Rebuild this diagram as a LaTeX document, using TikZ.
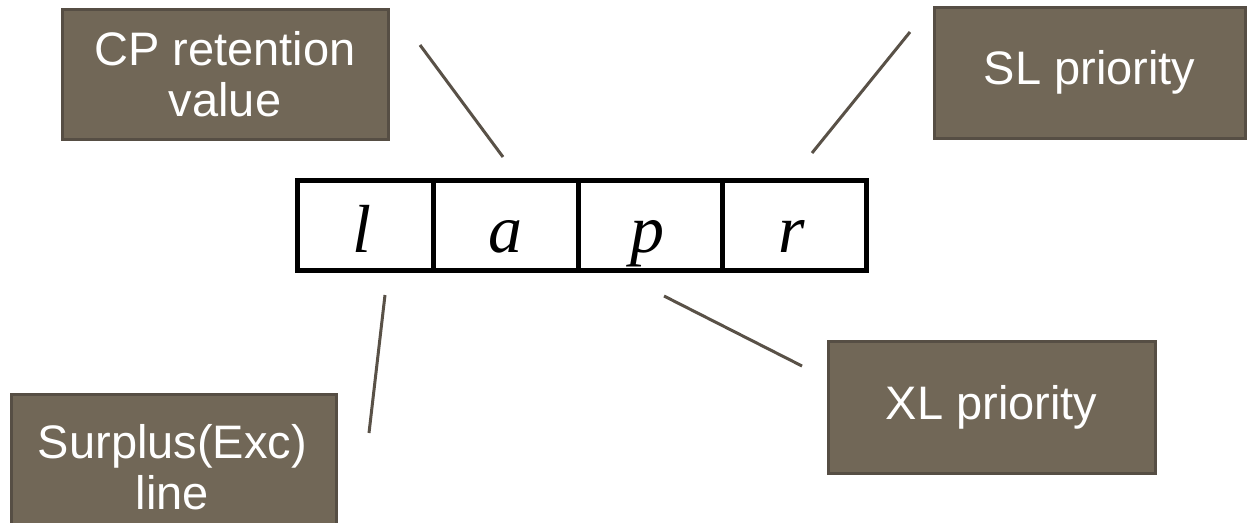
\documentclass[tikz,border=0pt]{standalone}
\usepackage{fontspec}
\setmainfont{Liberation Sans}
\newfontfamily\cellfont{Liberation Serif}
\begin{document}
\begin{tikzpicture}[x=1pt,y=-1pt]
\definecolor{boxfill}{HTML}{716757}
\definecolor{boxline}{HTML}{564E44}
\definecolor{conn}{HTML}{595147}
\tikzset{
  tagbox/.style={draw=boxline, line width=3pt, fill=boxfill, text=white, align=center,
    inner sep=0pt, font=\fontsize{47}{51}\selectfont},
  cell/.style={draw=black, line width=5pt, minimum height=90pt, inner sep=0pt},
  letter/.style={anchor=base, inner sep=0pt, font=\cellfont\itshape\fontsize{68}{68}\selectfont},
  connector/.style={draw=conn, line width=3pt}
}
\useasboundingbox (0,0) rectangle (1247,522);
\clip (0,0) rectangle (1247,522);
\fill[white] (0,0) rectangle (1247,522);

% table
\node[cell, minimum width=136pt] (cl) at (365,225) {};
\node[cell, minimum width=145pt] (ca) at (505.5,225) {};
\node[cell, minimum width=144pt] (cp) at (650,225) {};
\node[cell, minimum width=144pt] (cr) at (794,225) {};
\node[letter] (ll) at (362,252) {l};
\node[letter] (la) at (505,252) {a};
\node[letter] (lp) at (647,252) {p};
\node[letter] (lr) at (792,252) {r};

% boxes
\node[tagbox, minimum width=326pt, minimum height=130pt] (bcp) at (225,74) {CP retention\\value};
\node[tagbox, minimum width=311pt, minimum height=131pt] (bsl) at (1089.5,72.5) {SL priority};
\node[tagbox, minimum width=325pt, minimum height=200pt, anchor=north west] (bsu) at (10,393) {};
\node[text=white, align=center, font=\fontsize{47}{51}\selectfont, inner sep=0pt] (tsu) at (172.5,467) {Surplus(Exc)\\line};
\node[tagbox, minimum width=327pt, minimum height=132pt] (bxl) at (991.5,407) {XL priority};

% connectors
\coordinate (c1a) at (420,45);
\coordinate (c1b) at (503,157);
\coordinate (c2a) at (910,32);
\coordinate (c2b) at (812,153);
\coordinate (c3a) at (385,295);
\coordinate (c3b) at (369,433);
\coordinate (c4a) at (664,296);
\coordinate (c4b) at (802,366);
\draw[connector] (c1a) -- (c1b);
\draw[connector] (c2a) -- (c2b);
\draw[connector] (c3a) -- (c3b);
\draw[connector] (c4a) -- (c4b);
\end{tikzpicture}
\end{document}
